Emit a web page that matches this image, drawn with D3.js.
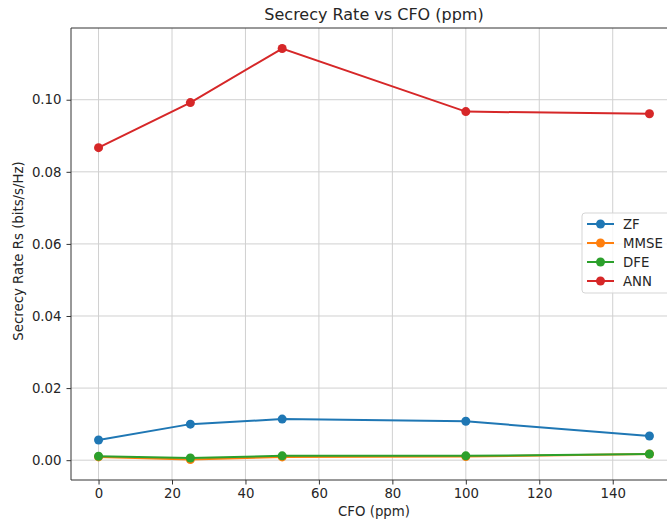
<!DOCTYPE html>
<html>
<head>
<meta charset="utf-8">
<script src="https://cdn.jsdelivr.net/npm/d3@7"></script>
<style>
  body { margin: 0; background: #fff; }
  svg text { font-family: "DejaVu Sans", sans-serif; fill: #262626; }
</style>
</head>
<body>
<div id="chart"></div>
<script>
// CFO values (ppm)
const cfo = [0, 25, 50, 100, 150];

// secrecy rate per detector
const zf = [0.0056, 0.0100, 0.0114, 0.0108, 0.0067];
const mmse = [0.0009, 0.0002, 0.0009, 0.0010, 0.0017];
const dfe = [0.0011, 0.0006, 0.0012, 0.0012, 0.0017];
const ann = [0.0867, 0.0992, 0.1142, 0.0967, 0.0961];

const xTicks = [0, 20, 40, 60, 80, 100, 120, 140];
const yTicks = [0, 0.02, 0.04, 0.06, 0.08, 0.10];

const series = [
    { name: "ZF", values: zf, color: "#1f77b4" },
    { name: "MMSE", values: mmse, color: "#ff7f0e" },
    { name: "DFE", values: dfe, color: "#2ca02c" },
    { name: "ANN", values: ann, color: "#d62728" }
];

const width = 667, height = 522;
const margin = { left: 71, top: 28, right: -10, bottom: 42 };
const fs = "13.3px";

const svg = d3.select("#chart")
    .append("svg")
    .attr("width", width)
    .attr("height", height);

// matplotlib style 5% margins
let all = series.flatMap(s => s.values);
let yMin = d3.min(all), yMax = d3.max(all);
let yPad = (yMax - yMin) * 0.05;

const xScale = d3.scaleLinear()
    .domain([-7.5, 157.5])
    .range([margin.left, width - margin.right]);

const yScale = d3.scaleLinear()
    .domain([yMin - yPad, yMax + yPad])
    .range([height - margin.bottom, margin.top]);

const plotBottom = height - margin.bottom;

// grid
svg.append("g")
    .selectAll("line")
    .data(xTicks)
    .enter()
    .append("line")
    .attr("x1", d => xScale(d))
    .attr("x2", d => xScale(d))
    .attr("y1", margin.top)
    .attr("y2", plotBottom)
    .attr("stroke", "#d0d0d0")
    .attr("stroke-width", 1);

svg.append("g")
    .selectAll("line")
    .data(yTicks)
    .enter()
    .append("line")
    .attr("x1", margin.left)
    .attr("x2", width)
    .attr("y1", d => yScale(d))
    .attr("y2", d => yScale(d))
    .attr("stroke", "#d0d0d0")
    .attr("stroke-width", 1);

// lines + markers
const line = d3.line()
    .x((d, i) => xScale(cfo[i]))
    .y(d => yScale(d));

series.forEach(s => {
    svg.append("path")
        .datum(s.values)
        .attr("d", line)
        .attr("fill", "none")
        .attr("stroke", s.color)
        .attr("stroke-width", 2);

    svg.append("g")
        .selectAll("circle")
        .data(s.values)
        .enter()
        .append("circle")
        .attr("cx", (d, i) => xScale(cfo[i]))
        .attr("cy", d => yScale(d))
        .attr("r", 4.5)
        .attr("fill", s.color);
});

// axes
const xAxis = d3.axisBottom(xScale).tickValues(xTicks).tickSize(4.5).tickPadding(4);
const yAxis = d3.axisLeft(yScale).tickValues(yTicks).tickSize(4.5).tickPadding(5)
    .tickFormat(d3.format(".2f"));

const gx = svg.append("g")
    .attr("transform", "translate(0, " + plotBottom + ")")
    .call(xAxis);
gx.select(".domain").remove();

const gy = svg.append("g")
    .attr("transform", "translate(" + margin.left + ", 0)")
    .call(yAxis);
gy.select(".domain").remove();

[gx, gy].forEach(g => {
    g.selectAll("text").style("font-size", fs).style("font-family", "DejaVu Sans");
    g.selectAll(".tick line").attr("stroke", "#333");
});

// spines
svg.append("line")
    .attr("x1", margin.left).attr("x2", margin.left)
    .attr("y1", margin.top).attr("y2", plotBottom)
    .attr("stroke", "#333").attr("stroke-width", 1);
svg.append("line")
    .attr("x1", margin.left).attr("x2", width)
    .attr("y1", margin.top).attr("y2", margin.top)
    .attr("stroke", "#333").attr("stroke-width", 1);
svg.append("line")
    .attr("x1", margin.left).attr("x2", width)
    .attr("y1", plotBottom).attr("y2", plotBottom)
    .attr("stroke", "#333").attr("stroke-width", 1);

// labels
svg.append("text")
    .attr("x", xScale(75))
    .attr("y", 20)
    .style("text-anchor", "middle")
    .style("font-size", "16px")
    .text("Secrecy Rate vs CFO (ppm)");

svg.append("text")
    .attr("x", xScale(75))
    .attr("y", 516)
    .style("text-anchor", "middle")
    .style("font-size", fs)
    .text("CFO (ppm)");

svg.append("text")
    .attr("transform", "rotate(-90)")
    .attr("x", 0 - 251)
    .attr("y", 23)
    .style("text-anchor", "middle")
    .style("font-size", fs)
    .text("Secrecy Rate Rs (bits/s/Hz)");

// legend
const legend = svg.append("g").attr("transform", "translate(582, 213)");
legend.append("rect")
    .attr("width", 95)
    .attr("height", 80)
    .attr("rx", 3)
    .attr("fill", "#fff")
    .attr("fill-opacity", 0.8)
    .attr("stroke", "#d5d5d5");

series.forEach((s, i) => {
    let y = 11 + i * 19;
    legend.append("line")
        .attr("x1", 5).attr("x2", 32)
        .attr("y1", y).attr("y2", y)
        .attr("stroke", s.color).attr("stroke-width", 2);
    legend.append("circle")
        .attr("cx", 18.5).attr("cy", y).attr("r", 4.5)
        .attr("fill", s.color);
    legend.append("text")
        .attr("x", 41).attr("y", y + 5)
        .style("font-size", fs)
        .text(s.name);
});
</script>
</body>
</html>
